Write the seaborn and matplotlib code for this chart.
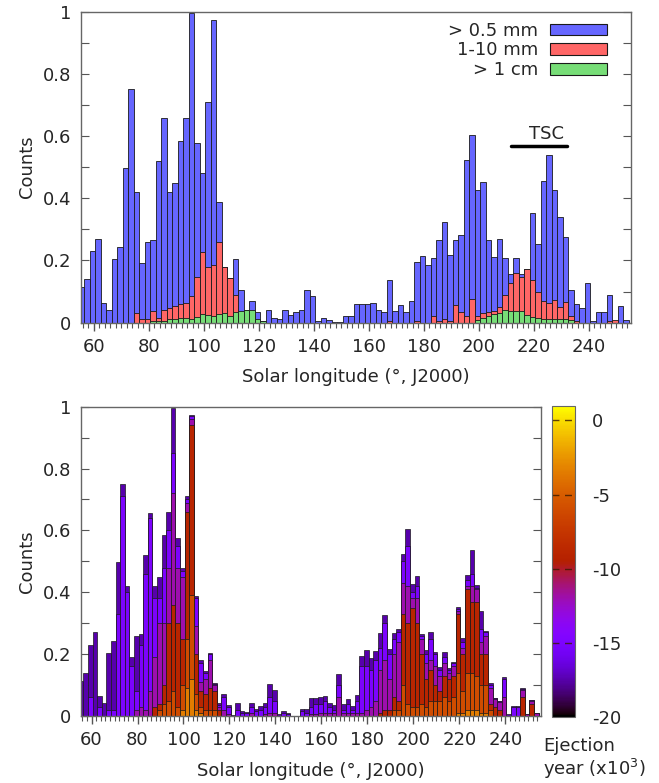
import numpy as np
import matplotlib
matplotlib.use("Agg")
import matplotlib.pyplot as plt
import seaborn as sns
from matplotlib.patches import Patch
from matplotlib.ticker import MultipleLocator, FuncFormatter
from matplotlib.colors import Normalize
from matplotlib.cm import ScalarMappable

# solar longitude bin centres (2 deg bins)
lon = np.arange(55.5, 255, 2.0)

# normalised counts per bin, top panel
big = [.113, .139, .229, .270, .064, .041, .205, .242, .497, .750,
       .419, .191, .258, .266, .520, .657, .419, .450, .585, .658,
       .996, .577, .480, .710, .972, .388, .180, .145, .205, .106,
       .041, .071, .035, .004, .041, .016, .012, .041, .023, .033,
       .041, .104, .084, .006, .016, .009, .001, .001, .021, .021,
       .059, .059, .061, .064, .041, .035, .136, .038, .056, .033,
       .069, .194, .214, .186, .209, .267, .325, .217, .267, .282,
       .523, .605, .426, .452, .266, .212, .270, .207, .157, .207,
       .155, .174, .351, .252, .455, .538, .425, .340, .275, .106,
       .059, .048, .126, .006, .033, .033, .089, .006, .053, .009]

mid = [0, 0, 0, 0, 0, 0, 0, 0, 0, 0,
       .030, .012, .012, .036, .014, .041, .047, .054, .059, .062,
       .087, .146, .227, .179, .184, .258, .180, .145, .089, .035,
       .030, .020, .005, 0, 0, 0, 0, 0, 0, 0,
       0, 0, 0, 0, 0, 0, 0, 0, 0, 0,
       0, 0, 0, 0, 0, 0, .005, 0, 0, 0,
       0, .004, 0, 0, .020, .006, .010, .005, .055, .034,
       .021, .077, .020, .030, .033, .037, .051, .089, .128, .160,
       .148, .174, .137, .100, .071, .062, .073, .050, .065, .020,
       .005, 0, 0, 0, 0, 0, .006, .009, 0, 0]

large = [0, 0, 0, 0, 0, 0, 0, 0, 0, 0,
         0, 0, 0, .004, .004, .006, .013, .012, .016, .015,
         .013, .018, .027, .026, .022, .028, .030, .022, .034, .036,
         .040, .040, .011, .004, 0, 0, 0, 0, 0, 0,
         0, 0, 0, 0, 0, 0, 0, 0, 0, 0,
         0, 0, 0, 0, 0, 0, 0, 0, 0, 0,
         0, 0, 0, 0, 0, 0, 0, 0, 0, 0,
         0, 0, .008, .014, .021, .028, .032, .040, .038, .038,
         .036, .025, .019, .014, .013, .011, .011, .013, .010, .008,
         0, 0, 0, 0, 0, 0, 0, 0, 0, 0]

# bottom panel: cumulative top of each ejection-age slice (youngest at bottom)
eject_years = [-3.5, -6, -9, -12, -15, -17.5]

cum_m3 = [0] * 20 + [0, 0, .02, .09, .12, .02, .01, 0, 0, 0] + [0] * 50 + \
         [0, 0, .01, .01, .02, .02, .02, .01, .01, 0] + [0] * 10

cum_m6 = [0] * 10 + \
         [0, 0, 0, 0, 0, 0, 0, .02, .04, .05,
          .08, .03, .10, .25, .39, .07, .03, .02, .02, .02] + [0] * 30 + \
         [0, 0, 0, 0, 0, 0, 0, 0, .02, .02,
          .10, .04, .03, .03, .04, .03, .05, .05, .05, .06,
          .05, .06, .14, .08, .14, .14, .13, .10, .10, .02] + [0] * 10

cum_m9 = [0] * 10 + \
         [0, 0, 0, 0, 0, 0, .03, .04, .10, .30,
          .36, .30, .25, .66, .94, .20, .08, .07, .09, .08,
          .02, 0, 0, 0, 0, 0, 0, 0, 0, 0] + [0] * 20 + \
         [0, 0, 0, 0, 0, .01, .02, .02, .06, .05,
          .33, .30, .35, .30, .20, .12, .15, .10, .08, .13,
          .12, .13, .33, .20, .41, .37, .37, .20, .20, .04,
          .03, .02, 0, 0, 0, 0, .06, 0, .04, 0]

cum_m12 = [0, 0, 0, 0, 0, 0, 0, 0, 0, 0,
           0, 0, .02, .03, .02, .08, .19, .30, .30, .48,
           .72, .48, .45, .69, .96, .29, .11, .12, .18, .10,
           .03, .02, .005, 0, 0, 0, 0, .01, 0, 0,
           .005, .01, .01, 0, 0, 0, 0, 0, 0, 0,
           .005, .005, .01, .01, .01, .01, .06, .01, .01, .01,
           .01, .01, .02, .03, .05, .15, .18, .12, .20, .24,
           .43, .42, .38, .38, .25, .17, .18, .16, .13, .17,
           .14, .16, .34, .22, .42, .42, .41, .24, .26, .09,
           .055, .045, .06, 0, 0, 0, .085, .006, .05, .009]

cum_m15 = [0, 0, .06, 0, .03, 0, .02, .02, .33, .71,
           .40, .16, .08, .23, .46, .64, .38, .38, .48, .60,
           .85, .55, .47, .70, .97, .38, .17, .14, .20, .105,
           .035, .06, .03, 0, .02, .01, .01, .03, .015, .02,
           .03, .06, .05, 0, .01, .005, 0, 0, .015, .01,
           .03, .04, .04, .05, .03, .02, .10, .02, .04, .02,
           .05, .16, .16, .15, .18, .22, .30, .20, .25, .27,
           .50, .55, .40, .42, .26, .20, .25, .20, .15, .19,
           .15, .17, .345, .24, .44, .46, .415, .28, .27, .10,
           .058, .047, .12, 0, .03, .03, .088, .006, .052, .009]

sns.set_style("ticks")
plt.rcParams["font.family"] = ["DejaVu Sans"]
plt.rcParams["font.size"] = 13
plt.rcParams["axes.unicode_minus"] = False
fs = 13

fig = plt.figure(figsize=(6.59, 7.83), dpi=100)
ax1 = fig.add_axes([0.1225, 0.588, 0.835, 0.397])
ax2 = fig.add_axes([0.1225, 0.0856, 0.698, 0.395])
cax = fig.add_axes([0.8372, 0.0847, 0.0353, 0.3972])

edge = "#1a1a1a"
cols = {"big": "#6666ff", "mid": "#ff6666", "large": "#77dd77"}

# top panel: three size classes drawn over each other
for vals, key in [(big, "big"), (mid, "mid"), (large, "large")]:
    sns.barplot(x=lon, y=vals, native_scale=True, width=1, color=cols[key],
                saturation=1, edgecolor=edge, linewidth=0.6, errorbar=None, ax=ax1)

ax1.plot([211.8, 232.3], [0.567, 0.567], color="black", lw=2.5)
ax1.text(224.5, 0.578, "TSC", ha="center", va="bottom", fontsize=fs)

handles = [Patch(facecolor=cols["big"], edgecolor=edge, lw=0.8),
           Patch(facecolor=cols["mid"], edgecolor=edge, lw=0.8),
           Patch(facecolor=cols["large"], edgecolor=edge, lw=0.8)]
ax1.legend(handles, ["> 0.5 mm", "1-10 mm", "> 1 cm"], loc="upper right",
           bbox_to_anchor=(0.957, 0.968), markerfirst=False, frameon=False,
           borderpad=0, borderaxespad=0, handlelength=3.15, handleheight=0.61,
           handletextpad=0.7, labelspacing=0.1, fontsize=fs)

# bottom panel: stacked by ejection epoch, oldest on top
cmap = plt.get_cmap("gnuplot")
norm = Normalize(vmin=-20, vmax=1)
layers = [big, cum_m15, cum_m12, cum_m9, cum_m6, cum_m3]
for vals, yr in zip(layers, eject_years[::-1]):
    sns.barplot(x=lon, y=vals, native_scale=True, width=1, color=cmap(norm(yr)),
                saturation=1, edgecolor=edge, linewidth=0.5, errorbar=None, ax=ax2)

fmt = FuncFormatter(lambda v, p: f"{v:g}")
for ax in (ax1, ax2):
    ax.set_xlim(55.3, 255.4)
    ax.set_ylim(0, 1)
    ax.xaxis.set_major_locator(MultipleLocator(20))
    ax.xaxis.set_minor_locator(MultipleLocator(2))
    ax.yaxis.set_major_locator(MultipleLocator(0.2))
    ax.yaxis.set_minor_locator(MultipleLocator(0.1))
    ax.yaxis.set_major_formatter(fmt)
    ax.tick_params(axis="x", which="major", direction="out", length=6, width=1,
                   color="#555555", pad=5, labelsize=fs, top=False)
    ax.tick_params(axis="x", which="minor", direction="out", length=3.5, width=0.8,
                   color="#555555", top=False)
    ax.tick_params(axis="y", which="both", direction="in", length=6, width=0.8,
                   color="#555555", left=True, right=True, pad=7, labelsize=fs)
    for sp in ax.spines.values():
        sp.set_color("#666666")
        sp.set_linewidth(1)
    ax.set_xlabel("Solar longitude (°, J2000)", fontsize=fs, labelpad=9)
    ax.set_ylabel("Counts", fontsize=fs, labelpad=5)

sm = ScalarMappable(norm=norm, cmap=cmap)
cb = fig.colorbar(sm, cax=cax)
cb.set_ticks([0, -5, -10, -15, -20])
cb.ax.tick_params(length=0, pad=12, labelsize=fs)
cb.outline.set_edgecolor("#666666")
for yv in [0, -5, -10, -15]:
    cax.axhline(yv, color="#3a1a00", lw=1, ls=(0, (5, 4)), alpha=0.8)
fig.text(0.824, 0.0305, "Ejection\nyear (x10$^3$)", ha="left", va="center",
         fontsize=fs, linespacing=1.1)

fig.savefig("out.png", dpi=100)
